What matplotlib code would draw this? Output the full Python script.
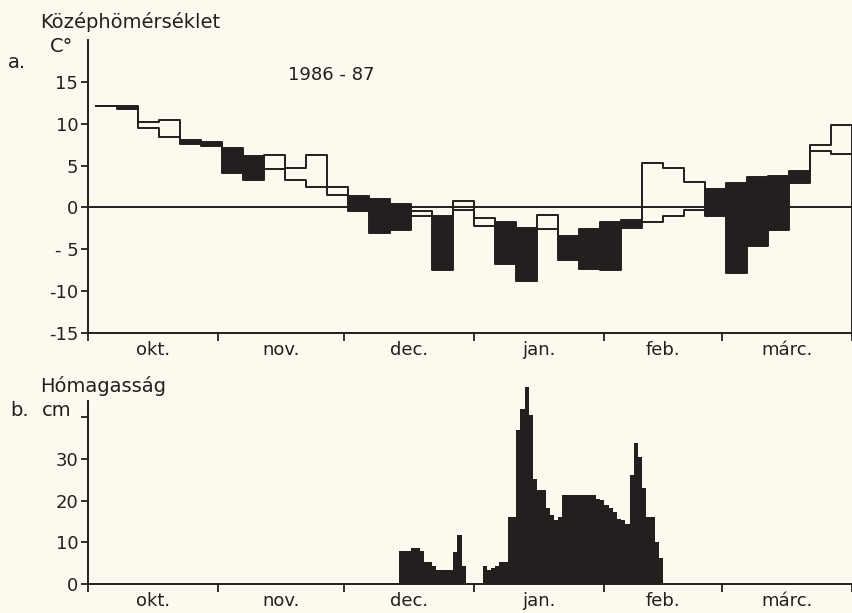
import numpy as np
import matplotlib.pyplot as plt

plt.rcParams['font.family'] = ['DejaVu Sans']

# month boundaries (days counted from 1 Oct) and names
month_start = [0, 31, 61, 92, 123, 151, 182]
month_names = ["okt.", "nov.", "dec.", "jan.", "feb.", "márc."]

# pentad mean temperature, °C (36 pentads from 2 Oct)
t_normal = [12.1, 12.1, 9.5, 8.4, 8.0, 7.8, 7.1, 6.1, 4.6, 3.3, 2.5, 1.5,
            1.4, 1.0, 0.4, -1.0, -1.0, -0.3, -2.2, -1.7, -2.4, -2.6, -3.4, -2.6,
            -1.8, -1.5, -1.8, -1.0, -0.3, 2.2, 2.9, 3.6, 3.7, 4.3, 6.8, 6.4]
t_season = [12.1, 11.7, 10.2, 10.4, 7.6, 7.3, 4.1, 3.3, 6.3, 4.7, 6.3, 2.4,
            -0.4, -3.1, -2.7, -0.4, -7.5, 0.8, -1.3, -6.7, -8.8, -0.9, -6.3, -7.3,
            -7.5, -2.4, 5.3, 4.7, 3.0, -1.0, -7.8, -4.6, -2.7, 2.9, 7.4, 9.8]
pentad_first_day = 2
temp_ticks = [-15, -10, -5, 0, 5, 10, 15]
temp_labels = ["-15", "-10", "- 5", "0", "5", "10", "15"]

# daily snow depth, cm, from 14 Dec
snow_first_day = 74
snow_cm = [7.9, 7.9, 7.9, 8.7, 8.7, 7.9, 5.3, 5.3, 4.3, 3.4, 3.4, 3.4, 3.4, 7.7, 11.8, 4.2,
           0, 0, 0, 0,
           4.2, 3.4, 3.8, 4.2, 5.3, 5.3, 16.1, 16.1, 36.9, 42.1, 47.3, 40.5, 25.3, 22.5,
           22.5, 18.2, 16.5, 15.3, 16.1, 21.3, 21.3, 21.3, 21.3, 21.3, 21.3, 21.3, 21.3,
           20.5, 20.1, 18.9, 18.2, 17.3, 15.7, 15.3, 14.4, 26.1, 33.9, 30.5, 23.0, 16.1,
           16.1, 10.1, 6.3]
snow_ticks = [0, 10, 20, 30, 40]
snow_labels = ["0", "10", "20", "30", ""]

paper = "#fcfaef"
ink = "#241f1f"
fs = 13
fs_head = 14


def month_axis(ax):
    ax.set_xlim(month_start[0], month_start[-1])
    ax.set_xticks(month_start)
    ax.set_xticklabels([])
    centers = [(a + b) / 2 for a, b in zip(month_start[:-1], month_start[1:])]
    ax.set_xticks(centers, minor=True)
    ax.set_xticklabels(month_names, minor=True, fontsize=fs, color=ink)
    ax.tick_params(axis="x", which="major", length=6, width=1.3, color=ink)
    ax.tick_params(axis="x", which="minor", length=0, pad=6)
    ax.tick_params(axis="y", length=5, width=1.3, color=ink, pad=2,
                   labelsize=fs, labelcolor=ink)
    for side in ("top", "right"):
        ax.spines[side].set_visible(False)
    for side in ("left", "bottom"):
        ax.spines[side].set_color(ink)
        ax.spines[side].set_linewidth(1.4)
    ax.set_facecolor("none")


fig = plt.figure(figsize=(8.53, 6.13), dpi=100, facecolor=paper)

# a. pentad mean temperature
ax1 = fig.add_axes([88 / 853, 1 - 333 / 613, 764 / 853, 293 / 613])
month_axis(ax1)
ax1.set_ylim(-15, 20)
ax1.set_yticks(temp_ticks)
ax1.set_yticklabels(temp_labels)

edges = pentad_first_day + 5 * np.arange(len(t_normal) + 1)
normal = np.array(t_normal)
season = np.array(t_season)
colder = season < normal
ax1.bar(edges[:-1][colder], (normal - season)[colder], bottom=season[colder],
        width=5, align="edge", color=ink, linewidth=0)
ax1.step(edges, np.append(normal, normal[-1]), where="post", color=ink, lw=1.4)
ax1.step(edges, np.append(season, season[-1]), where="post", color=ink, lw=1.4)
ax1.vlines(edges[-1], -15, max(normal[-1], season[-1]), color=ink, lw=1.4)
ax1.axhline(0, color=ink, lw=1.4)
ax1.text(58, 15.8, "1986 - 87", fontsize=fs, color=ink, ha="center", va="center")

fig.text(40 / 853, 1 - 22 / 613, "Középhömérséklet", fontsize=fs_head, color=ink,
         ha="left", va="center")
fig.text(8 / 853, 1 - 62 / 613, "a.", fontsize=fs_head, color=ink, ha="left", va="center")
fig.text(50 / 853, 1 - 46 / 613, "C°", fontsize=fs_head, color=ink, ha="left", va="center")

# b. snow depth
ax2 = fig.add_axes([88 / 853, 1 - 584 / 613, 764 / 853, (584 - 386) / 613])
month_axis(ax2)
ax2.set_ylim(0, 47.5)
ax2.spines["left"].set_bounds(0, 44)
ax2.set_yticks(snow_ticks)
ax2.set_yticklabels(snow_labels)
days = snow_first_day + np.arange(len(snow_cm))
ax2.bar(days, snow_cm, width=1, align="edge", color=ink, linewidth=0)

fig.text(40 / 853, 1 - 386 / 613, "Hómagasság", fontsize=fs_head, color=ink,
         ha="left", va="center")
fig.text(10 / 853, 1 - 411 / 613, "b.", fontsize=fs_head, color=ink, ha="left", va="center")
fig.text(42 / 853, 1 - 411 / 613, "cm", fontsize=fs_head, color=ink, ha="left", va="center")

fig.savefig("out.png", dpi=100, facecolor=paper)
